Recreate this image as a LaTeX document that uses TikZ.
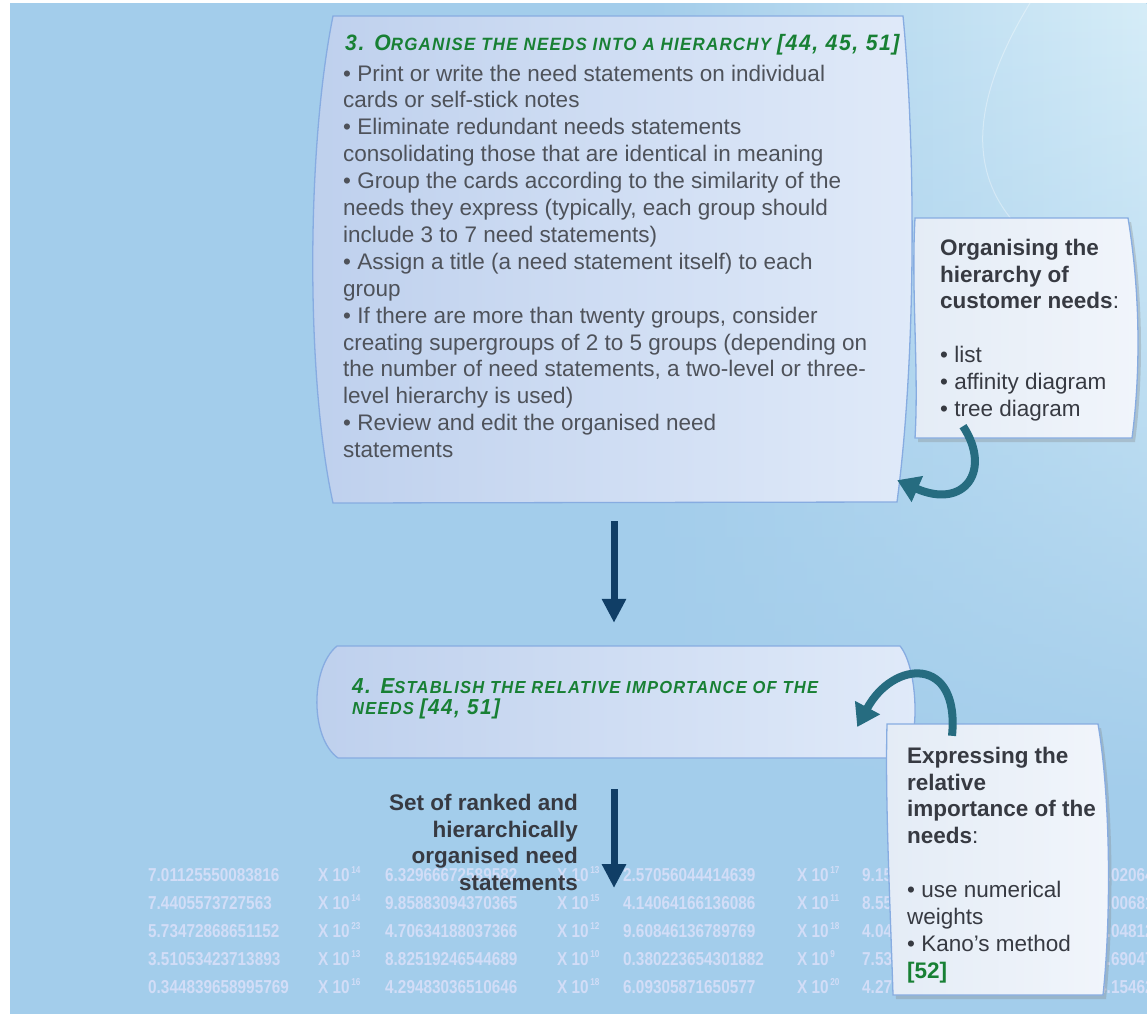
\documentclass[tikz,border=0pt]{standalone}
\usepackage{fontspec}
\setmainfont{Liberation Sans}
\newfontfamily\ttlfont[FakeStretch=0.95, LetterSpace=7]{Liberation Sans}
\newfontfamily\numfont[FakeStretch=0.82]{Liberation Sans}
\usetikzlibrary{arrows.meta,shadows,fadings}
\definecolor{bgblue}{RGB}{163,205,235}
\definecolor{bglight}{RGB}{214,237,248}
\definecolor{boxA}{RGB}{190,208,237}
\definecolor{boxB}{RGB}{224,234,249}
\definecolor{boxline}{RGB}{135,172,225}
\definecolor{cardA}{RGB}{228,236,246}
\definecolor{cardB}{RGB}{241,245,251}
\definecolor{txt}{RGB}{78,82,90}
\definecolor{dtxt}{RGB}{55,58,66}
\definecolor{ttlgreen}{RGB}{24,128,52}
\definecolor{navy}{RGB}{16,62,102}
\definecolor{teal}{RGB}{38,108,128}
\definecolor{numc}{RGB}{210,221,247}
\tikzfading[name=fadedown, top color=transparent!0, bottom color=transparent!100]
\tikzset{
  stepbox/.style={draw=boxline, line width=1.3pt, left color=boxA, right color=boxB},
  card/.style={draw=boxline, line width=1.3pt, left color=cardA, right color=cardB,
     drop shadow={shadow xshift=3pt, shadow yshift=-4pt, opacity=0.3}},
  body/.style={anchor=north west, align=left, inner sep=0pt, text=txt,
     font=\fontsize{22.5}{26.9}\selectfont},
  bbody/.style={body, text=dtxt},
  ttl/.style={inner sep=0pt, text=ttlgreen, font=\ttlfont\bfseries\itshape},
  numtxt/.style={anchor=base west, inner sep=0pt, text=numc, font=\numfont\bfseries\fontsize{18.7}{20}\selectfont},
  navyarr/.style={draw=navy, line width=7pt, -{Triangle[width=23pt,length=24pt]}},
  tealarr/.style={draw=teal, line width=8pt, -{Triangle[width=27pt,length=22pt]}},
  anchorbox/.style={inner sep=0pt, draw=none},
}
\newcommand{\sups}[1]{\raisebox{8pt}{\fontsize{10}{10}\selectfont\,#1}}
\begin{document}
\begin{tikzpicture}[x=1pt,y=-1pt]
\useasboundingbox (0,0) rectangle (1147,1014);
\fill[white] (0,0) rectangle (1147,1014);
\fill[bgblue] (10,3) rectangle (1147,1014);
\shade[left color=bgblue, right color=bglight, path fading=fadedown] (640,3) rectangle (1147,800);
% faint decorative curves
\draw[white, opacity=0.35, line width=1pt] (1030,3) .. controls (965,110) and (975,175) .. (1012,220);

% background numbers
\foreach \r/\yy/\pA/\eA/\pB/\eB/\pC/\eC/\pD/\pE in {
 1/881.5/7.01125550083816/14/6.32966672589582/13/2.57056044414639/17/9.15/7.02064,
 2/909.5/7.4405573727563/14/9.85883094370365/15/4.14064166136086/11/8.55/1.00681,
 3/937.5/5.73472868651152/23/4.70634188037366/12/9.60846136789769/18/4.04/3.04812,
 4/965.5/3.51053423713893/13/8.82519246544689/10/0.380223654301882/9/7.53/8.69047,
 5/993.5/0.344839658995769/16/4.29483036510646/18/6.09305871650577/20/4.27/4.15462}
{
 \node[numtxt] (na\r) at (148,\yy) {\pA};
 \node[numtxt] (xa\r) at (318,\yy) {X 10\sups{\eA}};
 \node[numtxt] (nb\r) at (385,\yy) {\pB};
 \node[numtxt] (xb\r) at (557,\yy) {X 10\sups{\eB}};
 \node[numtxt] (nc\r) at (623,\yy) {\pC};
 \node[numtxt] (xc\r) at (797,\yy) {X 10\sups{\eC}};
 \node[numtxt] (nd\r) at (862,\yy) {\pD};
 \node[numtxt] (ne\r) at (1098,\yy) {\pE};
}

% step 3 box
\path[stepbox] (333,16) -- (903,16) .. controls (916,150) and (916,360) .. (897,502)
  -- (333,503) .. controls (306,380) and (306,150) .. cycle;
\node[anchorbox, minimum width=570pt, minimum height=487pt] (b3) at (617,259.5) {};
\node[ttl, anchor=base west] (t3) at (345,51) {\fontsize{22.3}{22}\selectfont 3. O\fontsize{17.8}{22}\selectfont RGANISE THE NEEDS INTO A HIERARCHY \fontsize{22.3}{22}\selectfont[44, 45, 51]};
\node[body] (t3b) at (343,64.5) {• Print or write the need statements on individual\\
cards or self-stick notes\\
• Eliminate redundant needs statements\\
consolidating those that are identical in meaning\\
• Group the cards according to the similarity of the\\
needs they express (typically, each group should\\
include 3 to 7 need statements)\\
• Assign a title (a need statement itself) to each\\
group\\
• If there are more than twenty groups, consider\\
creating supergroups of 2 to 5 groups (depending on\\
the number of need statements, a two-level or three-\\
level hierarchy is used)\\
• Review and edit the organised need\\
statements};

% step 4 box
\path[stepbox] (337,646) -- (900,646) .. controls (918,668) and (920,738) .. (905,758)
  -- (338,758) .. controls (310,738) and (310,668) .. cycle;
\node[anchorbox, minimum width=590pt, minimum height=112pt] (b4) at (614,702) {};
\node[ttl, anchor=north west, align=left] (t4) at (352,678) {\fontsize{21.7}{21.5}\selectfont 4. E\fontsize{17.4}{21.5}\selectfont STABLISH THE RELATIVE IMPORTANCE OF THE\\[4pt]
\fontsize{17.4}{21.5}\selectfont NEEDS \fontsize{21.7}{21.5}\selectfont[44, 51]};

% navy arrows
\draw[navyarr] ([xshift=-3pt,yshift=-18pt]b3.south) -- ([yshift=23pt]b4.north);
\coordinate (setend) at (614,888);
\draw[navyarr] ([yshift=-31pt]b4.south) -- (setend);
\node[bbody, anchor=north east, align=right, font=\bfseries\fontsize{22.5}{26.9}\selectfont] (lab) at (578,793.6) {Set of ranked and\\ hierarchically\\ organised need\\ statements};

% card 1
\path[card] (915,218) -- (1128,218) .. controls (1140,290) and (1141,370) .. (1132,438)
  -- (915,438) .. controls (919,370) and (911,290) .. cycle;
\node[anchorbox, minimum width=215pt, minimum height=220pt] (b1) at (1022,328) {};
\node[bbody] (t1) at (940,238.6) {\textbf{Organising the}\\ \textbf{hierarchy of}\\ \textbf{customer needs}:\\[26.9pt] • list\\ • affinity diagram\\ • tree diagram};

% card 2
\path[card] (887,724) -- (1098,724) .. controls (1111,800) and (1111,920) .. (1103,995)
  -- (893,995) .. controls (890,900) and (885,800) .. cycle;
\node[anchorbox, minimum width=216pt, minimum height=271pt] (b2) at (995,859.5) {};
\node[bbody] (t2) at (907,746.6) {\textbf{Expressing the}\\ \textbf{relative}\\ \textbf{importance of the}\\ \textbf{needs}:\\[26.9pt] • use numerical\\ weights\\ • Kano’s method\\ \textcolor{ttlgreen}{\textbf{[52]}}};

% teal curved arrows
\draw[tealarr] ([xshift=-59pt,yshift=12pt]b1.south) .. controls (992,470) and (965,510) .. ([xshift=-5pt,yshift=23pt]b3.south east);
\draw[tealarr] ([xshift=-43pt,yshift=-12pt]b2.north) .. controls (960,655) and (893,660) .. ([xshift=-52pt,yshift=-25pt]b4.east);
\end{tikzpicture}
\end{document}
